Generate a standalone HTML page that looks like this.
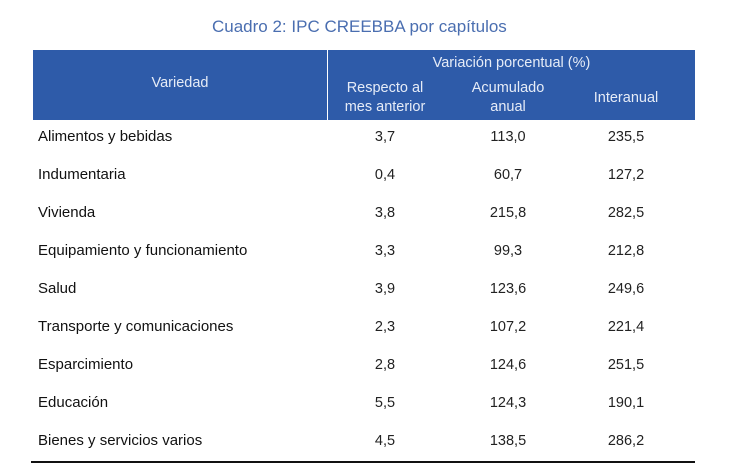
<!DOCTYPE html>
<html><head><meta charset="utf-8"><style>
body{margin:0;width:733px;height:475px;background:#fff;position:relative;font-family:"Liberation Sans",sans-serif;overflow:hidden}
.a{position:absolute;white-space:nowrap}
.t{left:212px;width:294px;text-align:center;top:17px;font-size:17px;color:#4a6eb0}
.h{position:absolute;left:33px;top:50px;width:662px;height:70px;background:#2e5ba9}
.vl{position:absolute;left:327px;top:50px;width:1px;height:70px;background:#fff}
.w{color:#e6ecf7;font-size:14.5px;text-align:center;line-height:19px}
.l{left:38px;font-size:15px;color:#111}
.n{font-size:14.5px;color:#222;text-align:center;width:80px}
.bl{position:absolute;left:31px;top:461px;width:664px;height:2px;background:#111}
</style></head><body>
<div class="a t">Cuadro 2: IPC CREEBBA por capítulos</div>
<div class="h"></div><div class="vl"></div>
<div class="a w" style="left:328px;width:367px;top:54px">Variación porcentual (%)</div>
<div class="a w" style="left:33px;width:294px;top:74px">Variedad</div>
<div class="a w" style="left:325px;width:120px;top:79px">Respecto al<br>mes anterior</div>
<div class="a w" style="left:448px;width:120px;top:79px">Acumulado<br>anual</div>
<div class="a w" style="left:566px;width:120px;top:89px">Interanual</div>
<div id="r"></div>
<div class="bl"></div>
<script>
var d=[["Alimentos y bebidas","3,7","113,0","235,5"],["Indumentaria","0,4","60,7","127,2"],["Vivienda","3,8","215,8","282,5"],["Equipamiento y funcionamiento","3,3","99,3","212,8"],["Salud","3,9","123,6","249,6"],["Transporte y comunicaciones","2,3","107,2","221,4"],["Esparcimiento","2,8","124,6","251,5"],["Educación","5,5","124,3","190,1"],["Bienes y servicios varios","4,5","138,5","286,2"]];
var h="";d.forEach(function(r,i){var y=128+i*38;h+='<div class="a l" style="top:'+y+'px">'+r[0]+'</div>';[385,508,626].forEach(function(x,j){h+='<div class="a n" style="left:'+(x-40)+'px;top:'+(y+1)+'px">'+r[j+1]+'</div>';});});
document.getElementById("r").innerHTML=h;
</script>
</body></html>
